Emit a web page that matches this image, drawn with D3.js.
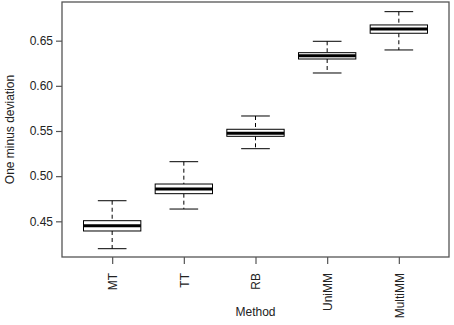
<!DOCTYPE html>
<html><head><meta charset="utf-8">
<script src="https://cdn.jsdelivr.net/npm/d3@7"></script>
<style>body{margin:0;background:#fff}svg{display:block}text{font-family:"Liberation Sans",Arial,sans-serif;fill:#222}</style>
</head><body>
<script>
const categories = ["MT","TT","RB","UniMM","MultiMM"];
const whiskerLow  = [0.4197,0.4636,0.5304,0.6142,0.6397];
const q1          = [0.4393,0.4806,0.5441,0.6297,0.6582];
const median      = [0.4451,0.4858,0.5475,0.6334,0.6630];
const q3          = [0.4507,0.4913,0.5519,0.6367,0.6674];
const whiskerHigh = [0.4728,0.5160,0.5666,0.6493,0.6821];
const yTicks = [0.45,0.50,0.55,0.60,0.65];

const W=454,H=325, L=62,R=449,T=2,B=257;
const svg=d3.select("body").append("svg").attr("width",W).attr("height",H);
const x=d3.scaleLinear().domain([0.3,5.7]).range([L,R]);
const y=d3.scaleLinear().domain([0.4105,0.6928]).range([B,T]);

// frame
svg.append("rect").attr("x",L).attr("y",T).attr("width",R-L).attr("height",B-T)
  .attr("fill","none").attr("stroke","#555").attr("stroke-width",1.3);

// y axis
const ya=svg.append("g").attr("transform",`translate(${L},0)`)
  .call(d3.axisLeft(y).tickValues(yTicks).tickFormat(d3.format(".2f")).tickSize(6).tickPadding(3));
ya.select(".domain").remove();
ya.selectAll("line").attr("stroke","#555").attr("stroke-width",1.2);
ya.selectAll("text").style("font-size","12px").attr("fill","#222");

// x axis
const xa=svg.append("g").attr("transform",`translate(0,${B})`)
  .call(d3.axisBottom(x).tickValues(d3.range(1,categories.length+1)).tickFormat(i=>categories[i-1]).tickSize(7));
xa.select(".domain").remove();
xa.selectAll("line").attr("stroke","#555").attr("stroke-width",1.2);
xa.selectAll("text").style("font-size","12px").attr("fill","#222")
  .attr("transform","rotate(-90)").attr("text-anchor","end")
  .attr("x",-16).attr("y",0).attr("dy","0.35em");

// axis titles
svg.append("text").attr("x",(L+R)/2).attr("y",316).attr("text-anchor","middle")
  .style("font-size","12px").text("Method");
svg.append("text").attr("transform",`translate(14,${(T+B)/2}) rotate(-90)`)
  .attr("text-anchor","middle").style("font-size","12px").text("One minus deviation");

// boxes
const g=svg.append("g");
categories.forEach((c,i)=>{
  const cx=x(i+1), bw=x(0.4)-x(0), cw=x(0.2)-x(0);
  g.append("line").attr("x1",cx).attr("x2",cx).attr("y1",y(whiskerHigh[i])).attr("y2",y(q3[i]))
    .attr("stroke","#000").attr("stroke-dasharray","4,3");
  g.append("line").attr("x1",cx).attr("x2",cx).attr("y1",y(q1[i])).attr("y2",y(whiskerLow[i]))
    .attr("stroke","#000").attr("stroke-dasharray","4,3");
  [whiskerHigh[i],whiskerLow[i]].forEach(v=>g.append("line").attr("x1",cx-cw).attr("x2",cx+cw)
    .attr("y1",y(v)).attr("y2",y(v)).attr("stroke","#000"));
  g.append("rect").attr("x",cx-bw).attr("width",2*bw).attr("y",y(q3[i])).attr("height",y(q1[i])-y(q3[i]))
    .attr("fill","#fff").attr("stroke","#000");
  g.append("line").attr("x1",cx-bw).attr("x2",cx+bw).attr("y1",y(median[i])).attr("y2",y(median[i]))
    .attr("stroke","#000").attr("stroke-width",3);
});
</script>
</body></html>
